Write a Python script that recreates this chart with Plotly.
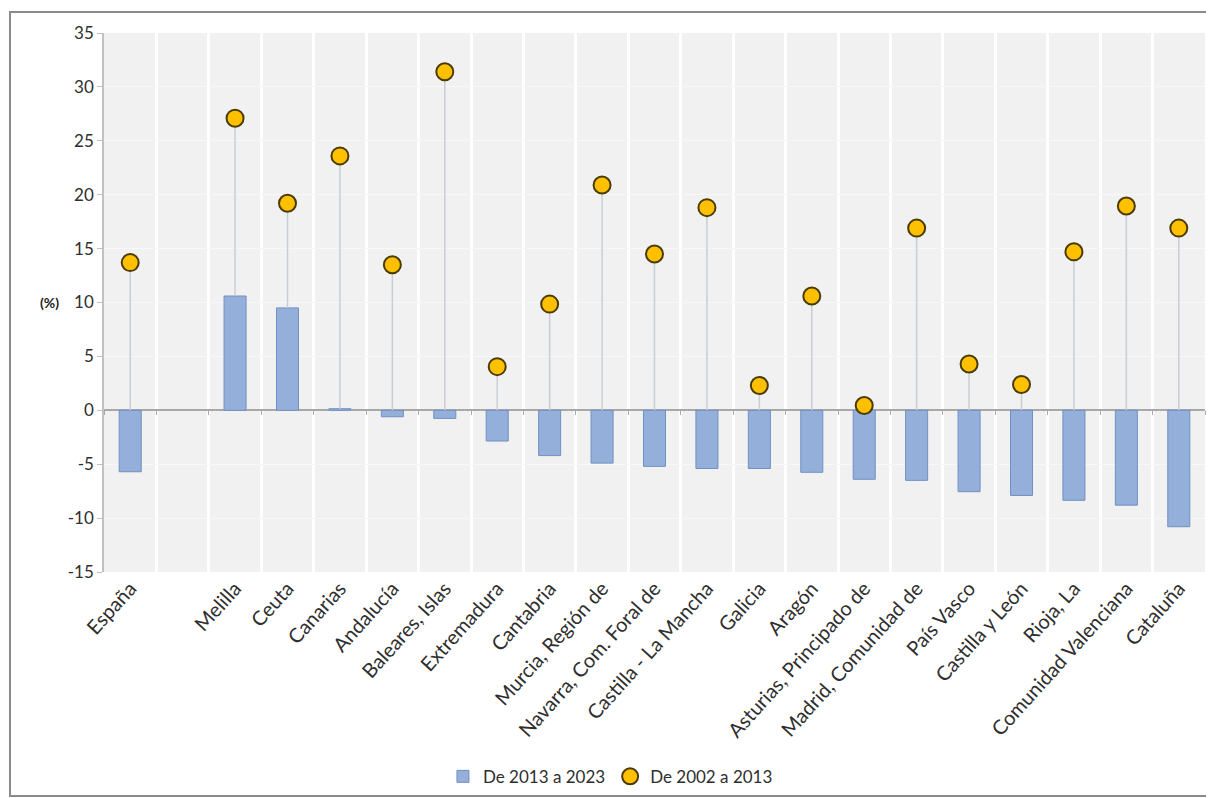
import plotly.graph_objects as go

categories = ["España", " ", "Melilla", "Ceuta", "Canarias", "Andalucía", "Baleares, Islas",
              "Extremadura", "Cantabria", "Murcia, Región de", "Navarra, Com. Foral de",
              "Castilla - La Mancha", "Galicia", "Aragón", "Asturias, Principado de",
              "Madrid, Comunidad de", "País Vasco", "Castilla y León", "Rioja, La",
              "Comunidad Valenciana", "Cataluña"]

serie_2013_2023 = [-5.7, None, 10.6, 9.5, 0.15, -0.6, -0.75, -2.85, -4.2, -4.9, -5.2,
                   -5.4, -5.4, -5.75, -6.4, -6.5, -7.55, -7.9, -8.35, -8.8, -10.8]
serie_2002_2013 = [13.7, None, 27.1, 19.2, 23.6, 13.5, 31.4, 4.05, 9.85, 20.9, 14.5,
                   18.8, 2.3, 10.6, 0.45, 16.9, 4.3, 2.4, 14.7, 18.95, 16.9]

name_bar = "De 2013 a 2023"
name_dot = "De 2002 a 2013"

y_ticks = [35, 30, 25, 20, 15, 10, 5, 0, -5, -10, -15]
y_ticktext = [str(v) for v in y_ticks]

# stems from the bar top (or zero) up to the dot
stem_minus = [None if d is None else d - max(b if b is not None else 0, 0)
              for d, b in zip(serie_2002_2013, serie_2013_2023)]
stem_plus = [0 if d is not None else None for d in serie_2002_2013]

font_family = "Lato, 'Open Sans', sans-serif"
text_col = "#2E2E2E"

fig = go.Figure()

fig.add_trace(go.Bar(
    x=categories, y=serie_2013_2023, name=name_bar,
    marker=dict(color="#94AFD9", line=dict(color="#7090C2", width=1)),
    width=0.42,
))

fig.add_trace(go.Scatter(
    x=categories, y=serie_2002_2013, name=name_dot, mode="markers",
    marker=dict(size=17, color="#FFC000", line=dict(color="#4A3C00", width=2)),
    error_y=dict(type="data", symmetric=False, array=stem_plus, arrayminus=stem_minus,
                 color="#C9CDD8", thickness=1.5, width=0),
))

# helper trace for the small tick marks along the zero line
fig.add_trace(go.Scatter(
    x=categories, y=serie_2013_2023, xaxis="x2", mode="markers",
    marker=dict(opacity=0), showlegend=False, hoverinfo="skip",
))

fig.update_layout(
    width=1206, height=790,
    margin=dict(l=96, r=9, t=25, b=226, autoexpand=False),
    paper_bgcolor="white",
    plot_bgcolor="#F1F1F1",
    font=dict(family=font_family, color=text_col, size=17),
    showlegend=True,
    legend=dict(orientation="h", x=0.46, xanchor="center", y=-0.38, yanchor="middle",
                font=dict(size=17, color=text_col), bgcolor="rgba(0,0,0,0)",
                itemwidth=30, traceorder="normal"),
    xaxis=dict(
        type="category", categoryorder="array", categoryarray=categories,
        range=[-0.5, len(categories) - 0.5], automargin=False,
        tickson="boundaries", showgrid=True, gridcolor="white", gridwidth=3,
        ticks="", tickangle=-48, tickfont=dict(size=20, color=text_col),
        showline=False, zeroline=False,
    ),
    xaxis2=dict(
        type="category", categoryorder="array", categoryarray=categories,
        overlaying="x", matches="x", anchor="free", position=0.3, automargin=False,
        showticklabels=False, ticks="outside", ticklen=4, tickcolor="#A8A8A8",
        tickson="boundaries", showgrid=False, zeroline=False, showline=False,
    ),
    yaxis=dict(
        range=[-15, 35], tickvals=y_ticks, ticktext=y_ticktext, automargin=False,
        showgrid=True, gridcolor="#F8F8F8", gridwidth=1,
        zeroline=True, zerolinecolor="#A8A8A8", zerolinewidth=1.5,
        showline=True, linecolor="#C0C0C0", linewidth=1.5,
        ticks="outside", ticklen=5, tickcolor="#C0C0C0",
        tickfont=dict(size=17, color=text_col),
    ),
    annotations=[dict(text="<b>(%)</b>", xref="paper", yref="y", x=-0.06, y=10,
                      showarrow=False, font=dict(size=14, color="#222222"))],
    shapes=[dict(type="rect", xref="paper", yref="paper",
                 x0=-0.0854, x1=1.02, y0=-0.4155, y1=1.039,
                 line=dict(color="#8A8A8A", width=2), fillcolor="rgba(0,0,0,0)",
                 layer="below")],
)

fig.write_html("out.html")
